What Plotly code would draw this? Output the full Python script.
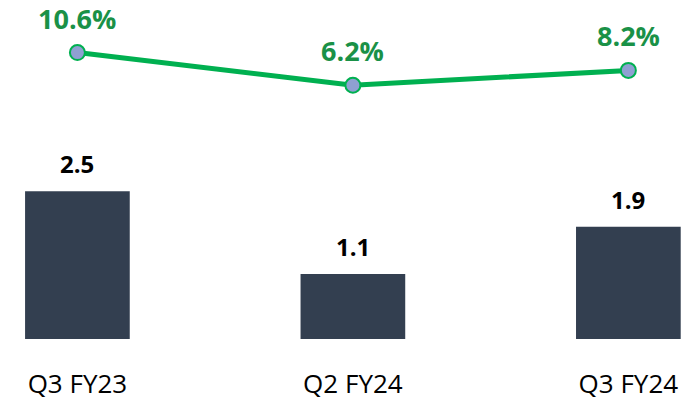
import plotly.graph_objects as go

categories = ["Q3 FY23", "Q2 FY24", "Q3 FY24"]
bar_values = [2.5, 1.1, 1.9]
pct_values = [10.6, 6.2, 8.2]
bar_labels = ["2.5", "1.1", "1.9"]
pct_labels = ["10.6%", "6.2%", "8.2%"]

FONT = "Open Sans"
fig = go.Figure()
fig.add_trace(go.Bar(
    x=categories, y=bar_values, marker=dict(color="#333f50", line=dict(width=0)),
    width=0.38, yaxis="y", hoverinfo="skip",
))
fig.add_trace(go.Scatter(
    x=categories, y=pct_values, mode="lines+markers", yaxis="y2",
    line=dict(color="#00b050", width=5),
    marker=dict(size=15, color="#8fa0d2", line=dict(color="#00b050", width=2)),
    hoverinfo="skip",
))

annotations = []
for c, v, t in zip(categories, bar_values, bar_labels):
    annotations.append(dict(x=c, y=v, xref="x", yref="y", text=f"<b>{t}</b>",
                            showarrow=False, yanchor="bottom", yshift=9,
                            font=dict(family=FONT, size=24, color="#000000")))
for c, v, t in zip(categories, pct_values, pct_labels):
    annotations.append(dict(x=c, y=v, xref="x", yref="y2", text=f"<b>{t}</b>",
                            showarrow=False, yanchor="bottom", yshift=14,
                            font=dict(family=FONT, size=27, color="#1a9147")))

fig.update_layout(
    width=692, height=401,
    margin=dict(l=0, r=0, t=0, b=59),
    paper_bgcolor="white", plot_bgcolor="white",
    showlegend=False,
    font=dict(family=FONT),
    xaxis=dict(type="category", range=[-0.281, 2.231], showgrid=False, zeroline=False,
               showline=False, ticks="", tickfont=dict(family=FONT, size=26, color="#000000"),
               ticklabelstandoff=27),
    yaxis=dict(range=[0, 5.738], visible=False, showgrid=False, zeroline=False),
    yaxis2=dict(range=[-27.93, 17.667], overlaying="y", visible=False, showgrid=False, zeroline=False),
    annotations=annotations,
)
fig.write_html("out.html", config={"displayModeBar": False, "staticPlot": True},
               post_script="document.body.style.margin='0px';document.body.style.overflow='hidden';")
